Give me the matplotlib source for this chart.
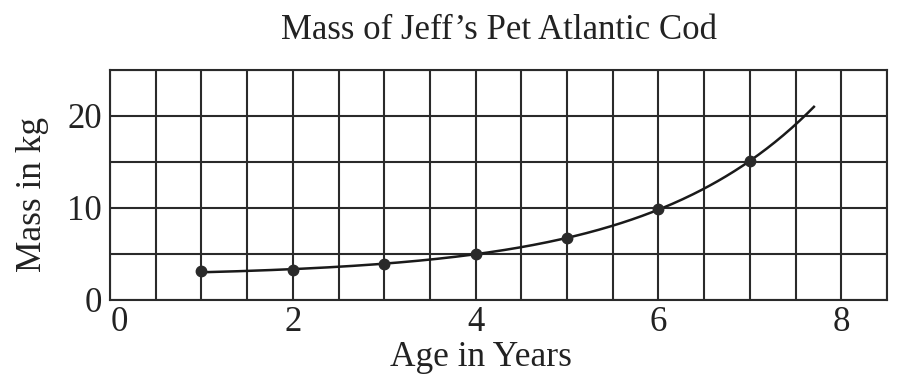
import numpy as np
import matplotlib
matplotlib.use("Agg")
import matplotlib.pyplot as plt
import matplotlib.transforms as mtransforms

# Data
age_years = [1, 2, 3, 4, 5, 6, 7]
mass_kg = [3.1, 3.3, 3.9, 5.0, 6.7, 9.9, 15.1]
curve_end_age = 7.7
x_ticks = [0, 2, 4, 6, 8]
y_ticks = [0, 10, 20]

plt.rcParams['font.family'] = ['Liberation Serif', 'DejaVu Serif']

fig = plt.figure(figsize=(8.97, 3.84), dpi=100)
ax = fig.add_axes([0.1226, 0.21875, 0.8663, 0.599])

ink = '#2a2a2a'
txt = '#222222'
ax.set_xlim(0, 8.5)
ax.set_ylim(0, 25)
ax.set_xticks(np.arange(0, 8.51, 0.5), minor=True)
ax.set_yticks(np.arange(0, 25.1, 5), minor=True)
ax.set_xticks(x_ticks)
ax.set_yticks(y_ticks)
ax.set_xticklabels([str(t) for t in x_ticks])
ax.grid(True, which='both', color=ink, linewidth=1.5)
ax.set_axisbelow(True)
ax.tick_params(which='both', length=0, labelsize=25, colors=txt, pad=4)
ax.tick_params(axis='y', pad=6)
for s in ax.spines.values():
    s.set_color(ink)
    s.set_linewidth(1.5)

# Fitted trend curve (least squares on a + b*exp(c*x))
xa = np.array(age_years, float)
ya = np.array(mass_kg, float)
best = None
for c in np.linspace(0.1, 1.2, 1101):
    A = np.column_stack([np.ones_like(xa), np.exp(c * xa)])
    coef, res, *_ = np.linalg.lstsq(A, ya, rcond=None)
    err = np.sum((A @ coef - ya) ** 2)
    if best is None or err < best[0]:
        best = (err, c, coef)
_, c, coef = best
xs = np.linspace(age_years[0], curve_end_age, 300)
ys = coef[0] + coef[1] * np.exp(c * xs)
ax.plot(xs, ys, color='#1a1a1a', linewidth=1.8, zorder=3)
ax.plot(age_years, mass_kg, 'o', color='#2a2a2a', markersize=7.5, zorder=4)

# shift the "0" x label slightly to the right like the reference
fig.canvas.draw()
first = ax.get_xticklabels()[0]
first.set_transform(first.get_transform() + mtransforms.ScaledTranslation(0.09, 0, fig.dpi_scale_trans))

ax.set_title("Mass of Jeff\u2019s Pet Atlantic Cod", fontsize=25, color=txt, pad=22)
ax.set_xlabel("Age in Years", fontsize=25.5, color=txt, labelpad=4)
ax.set_ylabel("Mass in kg", fontsize=25.5, color=txt)
ax.xaxis.set_label_coords(0.477, -0.177)
ax.xaxis.label.set_verticalalignment('top')
ax.yaxis.set_label_coords(-0.078, 0.457)

fig.savefig("out.png", dpi=100)
